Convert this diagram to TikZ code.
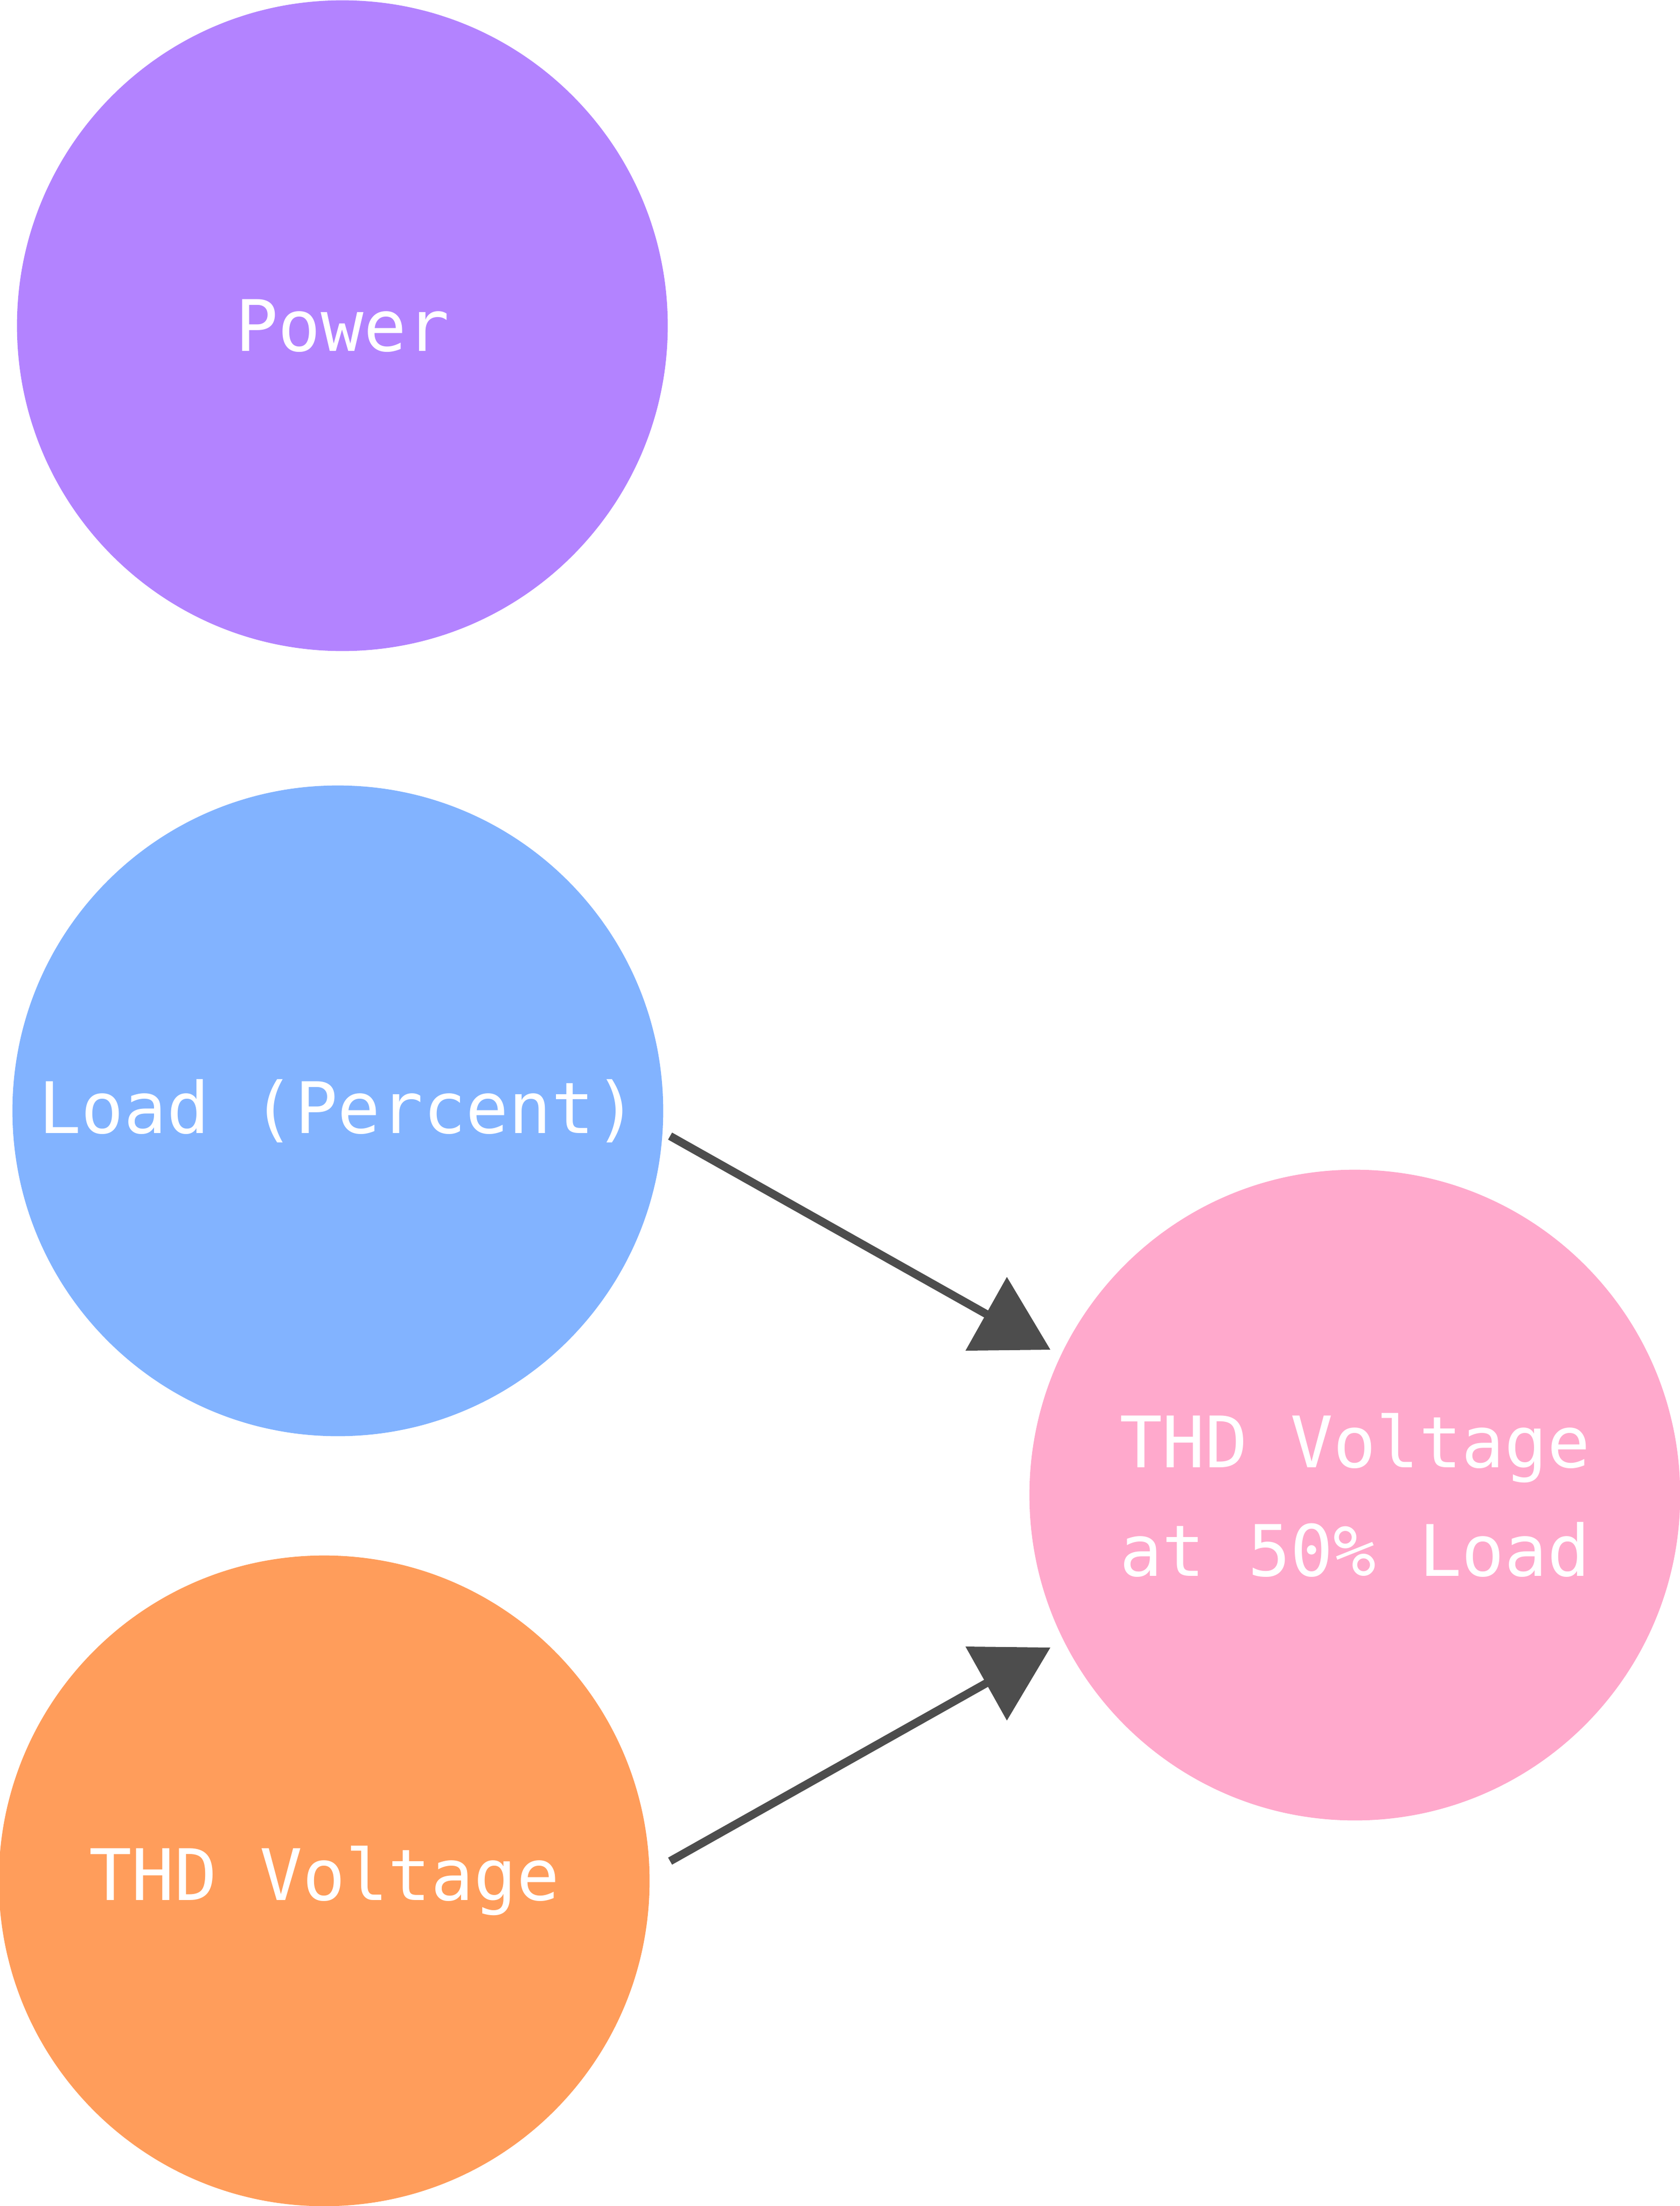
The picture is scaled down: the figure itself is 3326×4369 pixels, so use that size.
\documentclass[tikz,border=0pt]{standalone}
\usepackage{fontspec}
\newfontfamily\labelfont{DejaVu Sans Mono}
\definecolor{cpurple}{RGB}{179,131,255}
\definecolor{cblue}{RGB}{130,179,255}
\definecolor{corange}{RGB}{255,157,91}
\definecolor{cpink}{RGB}{255,169,204}
\definecolor{arrowgray}{RGB}{77,77,77}
\tikzset{
  bubble/.style={circle, inner sep=0pt, minimum size=12.88cm, draw=none,
    text=white, align=center, font=\labelfont\fontsize{40}{61}\selectfont},
  conn/.style={draw=arrowgray, line width=4.55pt},
  tri/.style={fill=arrowgray, draw=none}
}
\begin{document}
\begin{tikzpicture}[x=0.01cm, y=-0.01cm]
\fill[white] (0,0) rectangle (3326,4369);
\useasboundingbox (0,0) rectangle (3326,4369);
\node[bubble, fill=cpurple] (power) at (678,645) {Power};
\node[bubble, fill=cblue] (load) at (669,2200) {Load (Percent)};
\node[bubble, fill=corange] (thd) at (642,3725) {THD Voltage};
\node[bubble, fill=cpink] (out) at (2683,2961) {THD Voltage\\at 50\% Load};
\coordinate (s1) at (1327,2250);
\coordinate (e1) at (1995,2626);
\coordinate (s2) at (1327,3686);
\coordinate (e2) at (1995,3310);
\draw[conn] (s1) -- (e1);
\fill[tri, shift={(e1)}] (-1,-97) -- (-83,49) -- (85,47) -- cycle;
\draw[conn] (s2) -- (e2);
\fill[tri, shift={(e2)}] (-83,-49) -- (85,-47) -- (-1,97.5) -- cycle;
\end{tikzpicture}
\end{document}
